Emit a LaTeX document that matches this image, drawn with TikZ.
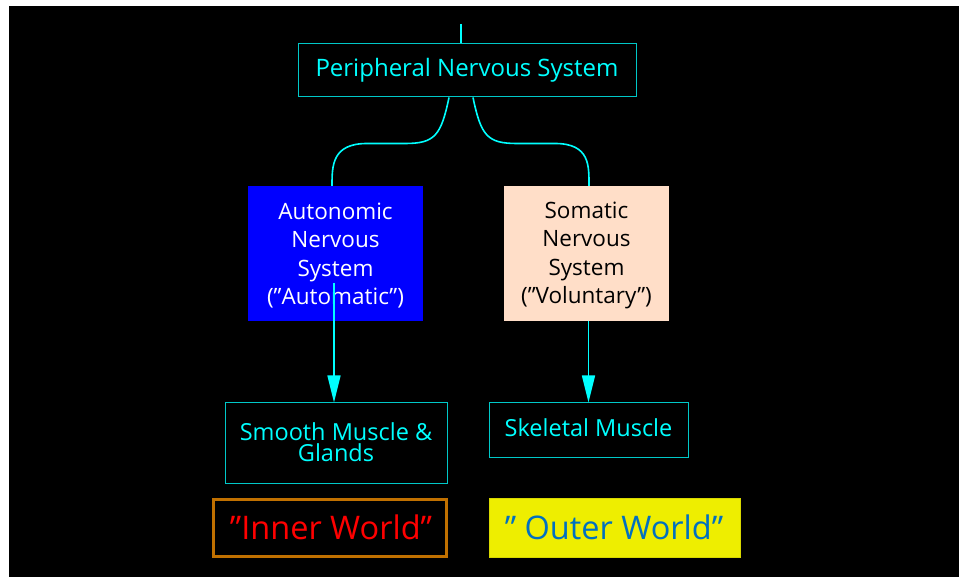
\documentclass[tikz,border=0pt]{standalone}
\usepackage{fontspec}
\setmainfont{Open Sans}
\usetikzlibrary{arrows.meta,calc}
\definecolor{cyantext}{HTML}{00FFFF}
\definecolor{cyanedge}{HTML}{00C8C8}
\definecolor{peach}{HTML}{FFDEC8}
\definecolor{brownedge}{HTML}{C07000}
\definecolor{outerblue}{HTML}{0070C0}
\definecolor{yellowfill}{HTML}{EEEE00}
\definecolor{yellowedge}{HTML}{D8D800}
\begin{document}
\begin{tikzpicture}[x=1pt,y=-1pt,
  outlinebox/.style={draw=cyanedge,line width=1pt,text=cyantext,inner sep=0pt,align=center,font=\fontsize{23.5}{21.5}\selectfont},
  fillbox/.style={inner sep=0pt,align=center,font=\fontsize{22.5}{28.5}\selectfont},
  worldbox/.style={inner sep=0pt,align=center,font=\fontsize{32.5}{34}\selectfont},
  link/.style={draw=cyantext,line width=1.6pt},
  arrowlink/.style={link,-{Triangle[length=27pt,width=13pt]}}]
% frame
\useasboundingbox (0,0) rectangle (959,577);
\fill[white] (0,0) rectangle (959,577);
\fill[black] (9,6) rectangle (959,577);

% boxes
\node[outlinebox,minimum width=338pt,minimum height=53pt,font=\fontsize{24}{26}\selectfont] (pns) at (467,70.5) {Peripheral Nervous System};
\node[fillbox,fill=blue,text=white,minimum width=175pt,minimum height=135pt] (ans) at (335.5,253.5) {};
\node[fillbox,text=white] (anstext) at (335.5,255.5) {Autonomic\\Nervous\\System\\("Automatic")};
\node[fillbox,fill=peach,text=black,minimum width=165pt,minimum height=135pt] (sns) at (586.5,253.5) {};
\node[fillbox,text=black] (snstext) at (586.5,255.5) {Somatic\\Nervous\\System\\(”Voluntary")};
\node[outlinebox,minimum width=222pt,minimum height=80pt] (smooth) at (336,443) {};
\node[outlinebox,draw=none] (smoothtext) at (336,442) {Smooth Muscle \&\\Glands};
\node[outlinebox,minimum width=199pt,minimum height=54pt] (skel) at (588.5,430) {};
\node[outlinebox,draw=none] (skeltext) at (588.5,428) {Skeletal Muscle};
\node[worldbox,draw=brownedge,line width=3pt,minimum width=233pt,minimum height=57pt] (inner) at (330,527.5) {};
\node[worldbox,text=red] (innertext) at (331,527) {”Inner World"};
\node[worldbox,fill=yellowfill,draw=yellowedge,line width=1pt,minimum width=251pt,minimum height=59pt] (outer) at (614.5,527.5) {};
\node[worldbox,text=outerblue] (outertext) at (614,527) {" Outer World"};

% connectors
\coordinate (top) at (461,24);
\draw[link] (top) -- (top |- pns.north);
\draw[link] ($(pns.south)+(-18,0)$) .. controls +(-8,38) and +(30,0) .. ($(pns.south)+(-62,46)$)
  -- ($(pns.south)+(-100,46)$) .. controls +(-35,0) and +(0,-20) .. ($(ans.north)+(-3.5,0)$);
\draw[link] ($(pns.south)+(6,0)$) .. controls +(8,38) and +(-30,0) .. ($(pns.south)+(50,46)$)
  -- ($(pns.south)+(88,46)$) .. controls +(35,0) and +(0,-20) .. ($(sns.north)+(2.5,0)$);
\coordinate (anstail) at (334,283);
\coordinate (snstail) at (588.5,321);
\draw[arrowlink] (anstail) -- (anstail |- smooth.north);
\draw[arrowlink] (snstail) -- (snstail |- skel.north);
\end{tikzpicture}
\end{document}
